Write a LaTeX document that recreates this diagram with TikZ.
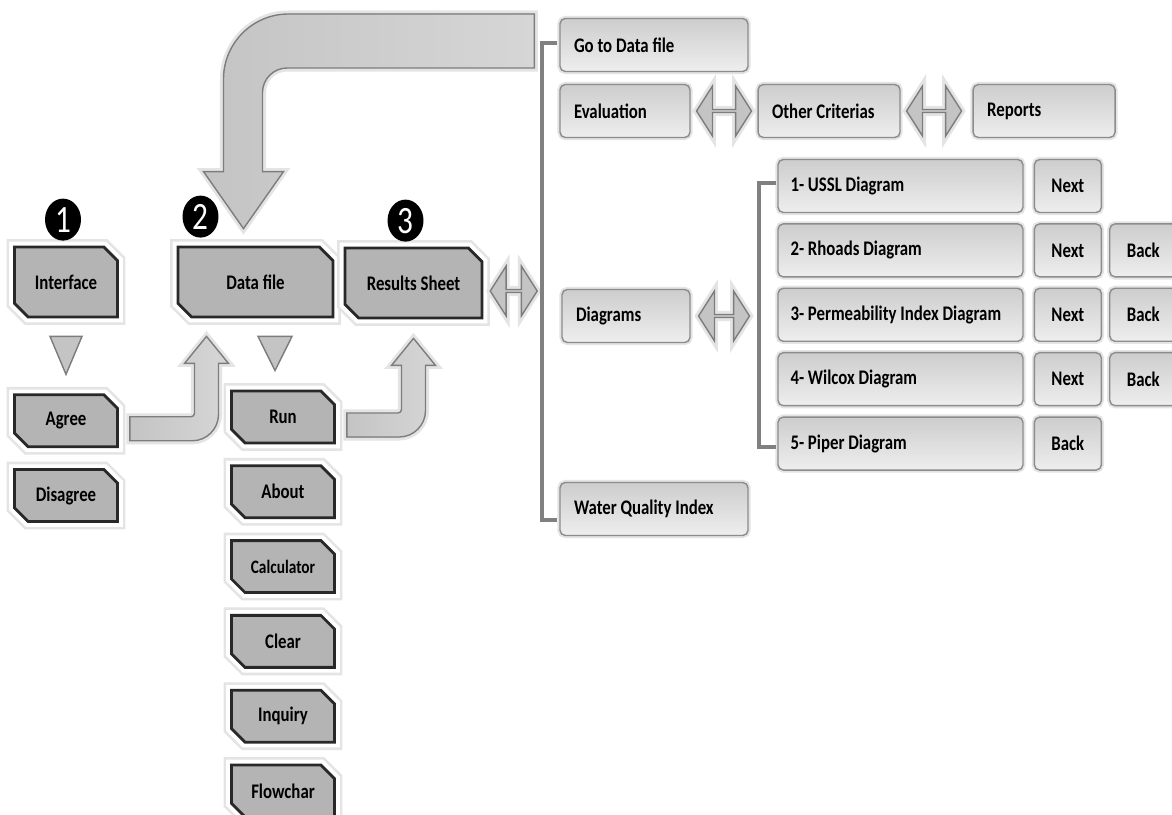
\documentclass[tikz,border=0pt]{standalone}
\usepackage{fontspec}
\setmainfont{Carlito}[FakeStretch=0.81]
\usepackage{tikz}
\usetikzlibrary{positioning,calc,shapes.misc,shapes.geometric,shapes.arrows}
\definecolor{panelgray}{RGB}{180,180,180}
\definecolor{paneledge}{RGB}{40,40,40}
\definecolor{tabtop}{RGB}{205,205,205}
\definecolor{tabbottom}{RGB}{238,238,238}
\definecolor{tabedge}{RGB}{140,140,140}
\definecolor{flowfill}{RGB}{196,196,196}
\definecolor{flowlight}{RGB}{214,214,214}
\definecolor{flowedge}{RGB}{125,125,125}
\definecolor{glowgray}{RGB}{228,228,228}
\newcommand\boxfont{\fontsize{11.8}{14}\selectfont\bfseries}

\begin{document}
\begin{tikzpicture}[x=0.02cm, y=-0.02cm,
    darkbox/.style={chamfered rectangle, chamfered rectangle corners={north east,south west},
        chamfered rectangle xsep=0.16cm, fill=panelgray, draw=paneledge, line width=1.6pt,
        minimum width=2.06cm, minimum height=1.04cm, inner sep=1pt, font=\boxfont,
        preaction={draw=glowgray, line width=9pt}, preaction={draw=white, line width=6pt}},
    tab/.style={draw=tabedge, line width=0.8pt, rounded corners=3pt, top color=tabtop,
        bottom color=tabbottom, minimum height=1.06cm, font=\boxfont,
        preaction={draw=glowgray, line width=3pt}},
    lightbox/.style={tab, text width=#1, inner xsep=0.28cm, align=flush left,
        execute at begin node={\hyphenpenalty=10000}},
    listbox/.style={lightbox=4.4cm, inner xsep=0.25cm},
    navbox/.style={tab, minimum width=1.34cm, align=center},
    dblarr/.style={double arrow, double arrow head extend=0.22cm, double arrow tip angle=115,
        minimum height=1.1cm, minimum width=1.0cm, inner sep=0pt, fill=flowfill,
        draw=flowedge, line width=0.8pt, preaction={draw=glowgray, line width=4pt}},
    blockarr/.style={left color=flowfill, right color=flowlight, draw=flowedge, line width=0.8pt,
        preaction={draw=glowgray, line width=4pt}},
    tri/.style={fill=flowfill, draw=flowedge, line width=0.8pt},
    brack/.style={draw=black!50, line width=2.2pt},
    num/.style={ellipse, fill=black, text=white, minimum width=0.72cm, minimum height=0.84cm,
        inner sep=0pt, font=\fontsize{22}{22}\selectfont}
]
\fill[white] (0,0) rectangle (1172,814);
\useasboundingbox (0,0) rectangle (1172,814);

% steps 1-3
\node[darkbox, minimum height=1.4cm] (interface) at (66,282) {Interface};
\node[darkbox, minimum height=1.4cm, minimum width=3.1cm] (datafile) at (255.5,282) {Data file};
\node[darkbox, minimum height=1.4cm, minimum width=2.74cm] (results) at (413.5,283) {Results Sheet};
\node[num] (n1) at ($(interface.north)+(-3,-26)$) {1};
\node[num] (n2) at ($(datafile.north)+(-55,-29)$) {2};
\node[num] (n3) at ($(results.north)+(-8,-26)$) {3};

% buttons
\node[darkbox, below=1.5cm of interface] (agree) {Agree};
\node[darkbox, below=0.4cm of agree] (disagree) {Disagree};
\node[darkbox] (run) at (283,417) {Run};
\node[darkbox, below=0.4cm of run] (about) {About};
\node[darkbox, below=0.4cm of about, font=\fontsize{10.8}{13}\selectfont\bfseries] (calculator) {Calculator};
\node[darkbox, below=0.4cm of calculator] (clear) {Clear};
\node[darkbox, below=0.4cm of clear] (inquiry) {Inquiry};
\node[darkbox, below=0.4cm of inquiry] (flowchar) {Flowchar};

% results sheet menu
\node[lightbox=3.2cm] (gotodata) at (654,45) {Go to Data file};
\node[lightbox=2.04cm] (evaluation) at (625,111) {Evaluation};
\node[dblarr, right=0.1cm of evaluation] (evalarr) {};
\node[lightbox=2.28cm, right=0.1cm of evalarr] (criteria) {Other Criterias};
\node[dblarr, right=0.1cm of criteria] (critarr) {};
\node[lightbox=2.28cm, right=0.2cm of critarr] (reports) {Reports};
\node[lightbox=2.0cm] (diagrams) at (626,316) {Diagrams};
\node[dblarr, minimum height=1.02cm, right=0.14cm of diagrams] (diagarr) {};
\node[lightbox=3.2cm] (wqi) at (654,509) {Water Quality Index};
\node[dblarr, minimum height=0.94cm, right=0.12cm of results, yshift=-0.16cm] (resarr) {};

% diagram pages
\node[listbox] (ussl) at (900.5,186) {1- USSL Diagram};
\node[listbox, below=0.2cm of ussl] (rhoads) {2- Rhoads Diagram};
\node[listbox, below=0.2cm of rhoads] (permeab) {3- Permeability Index Diagram};
\node[listbox, below=0.2cm of permeab] (wilcox) {4- Wilcox Diagram};
\node[listbox, below=0.2cm of wilcox] (piper) {5- Piper Diagram};
\node[navbox, right=0.2cm of ussl] (next1) {Next};
\node[navbox, right=0.2cm of rhoads] (next2) {Next};
\node[navbox, right=0.14cm of next2] (back2) {Back};
\node[navbox, right=0.2cm of permeab] (next3) {Next};
\node[navbox, right=0.14cm of next3] (back3) {Back};
\node[navbox, right=0.2cm of wilcox] (next4) {Next};
\node[navbox, right=0.14cm of next4] (back4) {Back};
\node[navbox, right=0.2cm of piper] (back5) {Back};

% brackets
\draw[brack] ($(gotodata.west)+(-2,-2)$) -- ++(-15,0) |- ($(wqi.west)+(-2,11)$);
\draw[brack] ($(ussl.west)+(-1,-3)$) -- ++(-17,0) |- ($(piper.west)+(-1,3)$);

% down triangles
\filldraw[tri] ($(interface.south)+(-16,18)$) -- ($(interface.south)+(16,18)$) -- ($(agree.north)+(0,-19)$) -- cycle;
\coordinate (dr) at (datafile.south -| run.north);
\filldraw[tri] ($(dr)+(-25,18)$) -- ($(dr)+(9,18)$) -- ($(run.north)+(-8,-19)$) -- cycle;

% bent arrows
\coordinate (s1) at ($(agree.east)+(11,8)$);
\coordinate (t1) at ($(datafile.south)+(-49,18)$);
\filldraw[blockarr] ($(s1)+(0,-12)$) [rounded corners=2pt] -- ($(s1 -| t1)+(-12,-12)$) [sharp corners]
  -- ($(t1)+(-12,27)$) -- ($(t1)+(-22,27)$) -- (t1) -- ($(t1)+(22,27)$) -- ($(t1)+(12,27)$)
  [rounded corners=15pt] -- ($(s1 -| t1)+(12,12)$) [sharp corners] -- ($(s1)+(0,12)$) -- cycle;

\coordinate (s2) at ($(run.east)+(11,8)$);
\coordinate (t2) at ($(results.south)+(0,19)$);
\filldraw[blockarr] ($(s2)+(0,-12)$) [rounded corners=2pt] -- ($(s2 -| t2)+(-12,-12)$) [sharp corners]
  -- ($(t2)+(-12,27)$) -- ($(t2)+(-22,27)$) -- (t2) -- ($(t2)+(22,27)$) -- ($(t2)+(12,27)$)
  [rounded corners=15pt] -- ($(s2 -| t2)+(12,12)$) [sharp corners] -- ($(s2)+(0,12)$) -- cycle;

\coordinate (s3) at ($(gotodata.west)+(-25,-4)$);
\coordinate (t3) at ($(datafile.north)+(-12,-17)$);
\filldraw[blockarr] ($(s3)+(0,-27)$) [rounded corners=37pt] -- ($(s3 -| t3)+(-20,-27)$) [sharp corners]
  -- ($(t3)+(-20,-57)$) -- ($(t3)+(-40,-57)$) -- (t3) -- ($(t3)+(40,-57)$) -- ($(t3)+(19,-57)$)
  [rounded corners=14pt] -- ($(s3 -| t3)+(19,27)$) [sharp corners] -- ($(s3)+(0,27)$) -- cycle;
\end{tikzpicture}
\end{document}
